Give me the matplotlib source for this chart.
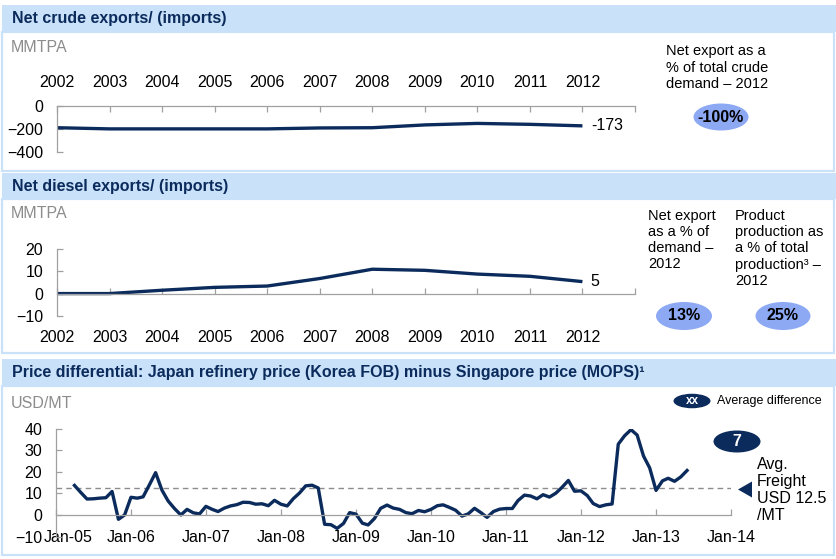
import matplotlib
matplotlib.use("Agg")
import matplotlib.pyplot as plt
import matplotlib.patches as mpatches
import matplotlib.transforms as mtransforms
import pandas as pd

plt.rcParams['font.family'] = ['Liberation Sans', 'DejaVu Sans']

# ---------------- data ----------------
years = [2002, 2003, 2004, 2005, 2006, 2007, 2008, 2009, 2010, 2011, 2012]
crude_net = [-189, -199, -199, -199, -199, -191, -189, -165, -152, -160, -173]
diesel_net = [0.0, 0.0, 1.5, 2.8, 3.4, 6.8, 11.0, 10.5, 8.8, 7.8, 5.4]

price_start = "2005-04-01"
price_diff = [
    13.7, 10.5, 7.4, 7.5, 7.8, 8.0, 10.9, -2.0, 0.0,                 # Apr-Dec 05
    8.2, 7.8, 8.4, 14.0, 19.6, 11.5, 6.5, 3.0, 0.0, 2.6, 1.0, 0.5,     # 06
    4.0, 2.6, 1.6, 3.2, 4.2, 4.8, 5.9, 5.8, 5.0, 5.2, 4.3, 6.8,        # 07
    5.0, 4.2, 7.5, 10.2, 13.5, 13.8, 12.5, -4.3, -4.5, -6.2, -3.9, 1.1,  # 08
    0.4, -3.8, -4.6, -1.6, 3.1, 4.6, 3.2, 2.6, 1.1, 0.6, 2.1, 1.5,     # 09
    2.6, 4.3, 4.7, 3.5, 2.2, -0.5, 0.5, 3.1, 1.1, -1.1, 1.6, 2.7,      # 10
    3.0, 3.0, 6.7, 9.2, 8.8, 7.5, 9.4, 8.3, 10.1, 12.8, 16.0, 11.0,    # 11
    11.2, 9.0, 5.3, 3.9, 4.7, 5.1, 32.8, 36.7, 39.5, 37.0, 27.3, 21.8,  # 12
    11.4, 15.8, 17.0, 15.6, 17.6, 20.6,                                # Jan-Jun 13
]
price_ticks = ["2005-01-01", "2006-01-01", "2007-01-01", "2008-01-01", "2009-01-01",
               "2010-01-01", "2011-01-01", "2012-01-01", "2013-01-01", "2014-01-01"]
price_tick_labels = ["Jan-05", "Jan-06", "Jan-07", "Jan-08", "Jan-09",
                     "Jan-10", "Jan-11", "Jan-12", "Jan-13", "Jan-14"]
avg_freight = 12.5
avg_difference = 7

crude_pct = "-100%"
diesel_pct = "13%"
diesel_prod_pct = "25%"

# ---------------- style ----------------
W, H = 837, 559
NAVY = "#0B2B5C"
LIGHT = "#C9E1F9"
BUBBLE = "#8DA9F4"
GREY = "#A0A0A0"
UNIT = "#8C8C8C"

fig = plt.figure(figsize=(W / 100, H / 100), dpi=100)

bg = fig.add_axes([0, 0, 1, 1], zorder=0)
bg.set_xlim(0, W)
bg.set_ylim(H, 0)
bg.axis("off")


def add_axes_px(left, top, right, bottom):
    ax = fig.add_axes([left / W, 1 - bottom / H, (right - left) / W, (bottom - top) / H], zorder=1)
    ax.set_facecolor("none")
    return ax


# panels: header top, header bottom, body bottom, title
panels = [
    (5, 32, 171, "Net crude exports/ (imports)"),
    (173, 199, 353, "Net diesel exports/ (imports)"),
    (359, 386, 555, "Price differential: Japan refinery price (Korea FOB) minus Singapore price (MOPS)¹"),
]
for htop, hbot, bbot, title in panels:
    bg.add_patch(mpatches.Rectangle((2, hbot), 832, bbot - hbot, facecolor="white",
                                    edgecolor=LIGHT, lw=1.6))
    bg.add_patch(mpatches.Rectangle((2, htop), 835, hbot - htop, facecolor=LIGHT,
                                    edgecolor="none"))
    bg.text(12, (htop + hbot) / 2, title, fontsize=11.5, fontweight="bold",
            color=NAVY, va="center", ha="left")

bg.text(11, 47, "MMTPA", fontsize=11.5, color=UNIT, va="center")
bg.text(11, 213, "MMTPA", fontsize=11.5, color=UNIT, va="center")
bg.text(11, 403, "USD/MT", fontsize=11.5, color=UNIT, va="center")

# side notes
bg.text(666, 67.5, "Net export as a\n% of total crude\ndemand – 2012", fontsize=10.5,
        va="center", ha="left", linespacing=1.2)
bg.text(648, 240, "Net export\nas a % of\ndemand –\n2012", fontsize=10.5,
        va="center", ha="left", linespacing=1.2)
bg.text(735, 248.5, "Product\nproduction as\na % of total\nproduction³ –\n2012", fontsize=10.5,
        va="center", ha="left", linespacing=1.2)


def bubble(cx, cy, w, h, txt, face, tcolor, size=11.5):
    bg.add_patch(mpatches.Ellipse((cx, cy), w, h, facecolor=face, edgecolor="none"))
    bg.text(cx, cy, txt, fontsize=size, fontweight="bold", color=tcolor,
            ha="center", va="center")


bubble(721, 117, 55, 27, crude_pct, BUBBLE, "black")
bubble(684, 316, 56, 28, diesel_pct, BUBBLE, "black")
bubble(783, 316, 55, 28, diesel_prod_pct, BUBBLE, "black")

# legend of bottom panel
bubble(692, 401, 37, 14.5, "xx", NAVY, "white", size=8.5)
bg.text(717, 401, "Average difference", fontsize=9, va="center", ha="left")
bubble(737, 441.5, 47, 22, str(avg_difference), NAVY, "white")

bg.add_patch(mpatches.Polygon([(738, 489.5), (752, 481.5), (752, 497.5)], closed=True,
                              facecolor=NAVY, edgecolor="none"))
bg.text(757, 490, "Avg.\nFreight\nUSD %g\n/MT" % avg_freight, fontsize=11.5,
        va="center", ha="left", linespacing=1.15)


def style(ax):
    ax.spines["right"].set_visible(False)
    for s in ax.spines.values():
        s.set_color(GREY)
        s.set_linewidth(0.9)
    ax.tick_params(colors=GREY, labelcolor="black", labelsize=11.5, direction="in",
                   length=4, width=0.9)


# ---------------- crude ----------------
ax1 = add_axes_px(57, 105.7, 635, 152.3)
ax1.plot(years, crude_net, color=NAVY, lw=2.4, solid_capstyle="butt")
ax1.set_xlim(2002, 2013)
ax1.set_ylim(-400, 0)
style(ax1)
ax1.spines["bottom"].set_visible(False)
ax1.xaxis.tick_top()
ax1.set_xticks(years + [2013])
ax1.set_xticklabels([str(y) for y in years] + [""])
ax1.set_yticks([0, -200, -400])
ax1.tick_params(axis="x", pad=11)
ax1.tick_params(axis="y", pad=10)
ax1.annotate("%d" % crude_net[-1], (years[-1], crude_net[-1]), xytext=(6, 0),
             textcoords="offset points", va="center", fontsize=11.5)

# ---------------- diesel ----------------
ax2 = add_axes_px(57, 249.3, 635, 315.7)
ax2.plot(years, diesel_net, color=NAVY, lw=2.4, solid_capstyle="butt")
ax2.set_xlim(2002, 2013)
ax2.set_ylim(-10, 20)
style(ax2)
ax2.spines["top"].set_visible(False)
ax2.spines["bottom"].set_position(("data", 0))
ax2.set_xticks(years + [2013])
ax2.set_xticklabels([str(y) for y in years] + [""])
ax2.set_yticks([20, 10, 0, -10])
ax2.tick_params(axis="x", pad=26)
ax2.tick_params(axis="y", pad=10)
ax2.annotate("%d" % int(diesel_net[-1]), (years[-1], diesel_net[-1]), xytext=(6, 0),
             textcoords="offset points", va="center", fontsize=11.5)

# ---------------- price differential ----------------
dates = pd.date_range(price_start, periods=len(price_diff), freq="MS")
ax3 = add_axes_px(56, 428.6, 731, 536.6)
ax3.axhline(avg_freight, color="#8C8C8C", lw=1, ls=(0, (4, 3)))
ax3.plot(dates, price_diff, color=NAVY, lw=2.4, solid_joinstyle="round")
ax3.set_xlim(pd.Timestamp(price_ticks[0]), pd.Timestamp(price_ticks[-1]))
ax3.set_ylim(-10, 40)
style(ax3)
ax3.spines["top"].set_visible(False)
ax3.spines["bottom"].set_position(("data", 0))
ax3.set_xticks([pd.Timestamp(t) for t in price_ticks])
ax3.set_xticklabels(price_tick_labels)
ax3.set_yticks([40, 30, 20, 10, 0, -10])
ax3.tick_params(axis="x", pad=11)
ax3.tick_params(axis="y", pad=10)

# first date label sits just right of the "-10" label, as in the source
first = ax3.get_xticklabels()[0]
first.set_horizontalalignment("left")
first.set_transform(first.get_transform() +
                    mtransforms.ScaledTranslation(-12 / 100, 0, fig.dpi_scale_trans))

fig.savefig("out.png", dpi=100)
